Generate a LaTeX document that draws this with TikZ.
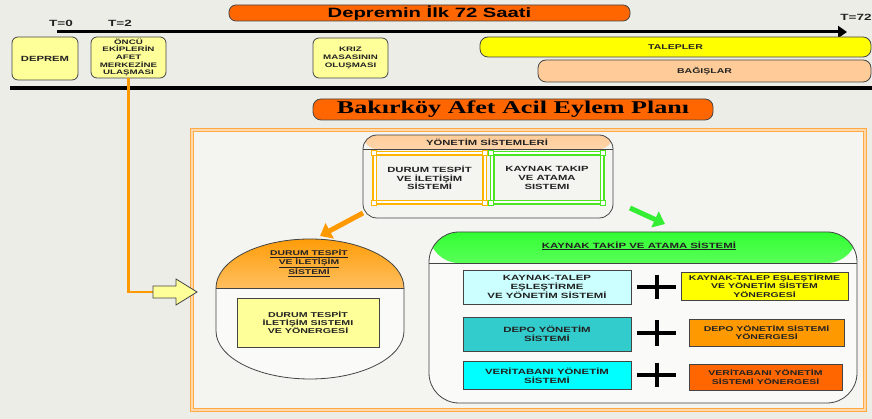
\documentclass[tikz,border=0pt]{standalone}
\usepackage{fontspec}
\setmainfont{Liberation Sans}[FakeStretch=1.5]
\newfontfamily\ttlserif{Liberation Serif}[FakeStretch=1.45]
\usetikzlibrary{arrows.meta}
\definecolor{bg}{HTML}{EDEDE7}
\definecolor{bginner}{HTML}{F4F4F0}
\definecolor{ttlorange}{HTML}{FF6600}
\definecolor{paleyellow}{HTML}{FFFF99}
\definecolor{brightyellow}{HTML}{FFFF00}
\definecolor{peach}{HTML}{FFCC99}
\definecolor{frameorange}{HTML}{FFAA44}
\definecolor{goldline}{HTML}{FFB400}
\definecolor{greenline}{HTML}{4BE622}
\definecolor{arroworange}{HTML}{FF9900}
\definecolor{arrowgreen}{HTML}{33EE33}
\definecolor{hdrgreen}{HTML}{33FF33}
\definecolor{lightcyan}{HTML}{CCFFFF}
\definecolor{tealbox}{HTML}{33CCCC}
\definecolor{cyanbox}{HTML}{00FFFF}
\definecolor{orangebox}{HTML}{FF9900}
\definecolor{redorange}{HTML}{FF6600}
\definecolor{txt}{HTML}{222222}
\definecolor{bord}{HTML}{444444}
\begin{document}
\begin{tikzpicture}[x=1pt,y=1pt,
  lbl/.style={font=\fontsize{9}{9}\selectfont\bfseries, text=txt, inner sep=0pt},
  evbox/.style={draw=bord, line width=0.8pt, rounded corners=6pt, fill=paleyellow, align=center, text=txt, inner sep=0pt, font=\fontsize{6.5}{7.6}\selectfont\bfseries},
  barbox/.style={draw=bord, line width=0.8pt, rounded corners=8pt, inner sep=0pt, text=txt, font=\fontsize{7}{8}\selectfont\bfseries},
  ttlbox/.style={draw=bord, line width=0.8pt, fill=ttlorange, inner sep=0pt, text=black},
  frm/.style={line width=1.5pt, double=white, double distance=2pt, align=center, inner sep=0pt, text=txt, font=\fontsize{7.5}{8.6}\selectfont\bfseries, minimum height=49pt},
  rowbox/.style={draw=bord, line width=0.9pt, align=center, inner sep=0pt, text=txt, font=\fontsize{7.6}{8.6}\selectfont\bfseries, minimum width=168pt},
  rbox/.style={draw=bord, line width=0.9pt, align=center, inner sep=0pt, text=txt, font=\fontsize{7}{8.2}\selectfont\bfseries},
  plus/.style={line width=4pt, black},
  hdrtxt/.style={align=center, inner sep=0pt, text=txt}
]
\fill[bg] (0,0) rectangle (872,419);
\useasboundingbox (0,0) rectangle (872,419);

% ---------- timeline part ----------
\node[ttlbox, rounded corners=7pt, minimum width=401pt, minimum height=16pt, font=\fontsize{13.5}{14}\selectfont\bfseries] (ttl) at (429.5,406) {Depremin İlk 72 Saati};

\node[lbl] (t0) at (61,396) {T=0};
\node[lbl] (t2) at (120,396) {T=2};
\node[lbl] (t72) at (856,402) {T=72};
\coordinate (tlA) at (57,387);
\coordinate (tlB) at (847,387);
\draw[line width=3pt, -{Triangle[length=9pt,width=12pt]}] (tlA) -- (tlB);

\node[evbox, minimum width=66pt, minimum height=43pt, font=\fontsize{7.5}{8}\selectfont\bfseries] (dep) at (45,360.5) {DEPREM};
\node[evbox, minimum width=75pt, minimum height=41pt] (onc) at (128.5,361.5) {ÖNCÜ\\EKİPLERİN\\AFET\\MERKEZİNE\\ULAŞMASI};
\node[evbox, minimum width=75pt, minimum height=40pt] (kriz) at (350.5,361) {KRIZ\\MASASININ\\OLUŞMASI};

\node[barbox, fill=brightyellow, minimum width=391pt, minimum height=20pt] (tal) at (675.5,372) {TALEPLER};
\node[barbox, fill=peach, minimum width=333pt, minimum height=22pt] (bag) at (704.5,348) {BAĞIŞLAR};

\coordinate (hlA) at (10,331);
\coordinate (hlB) at (872,331);
\draw[line width=3.5pt] (hlA) -- (hlB);

% ---------- plan part ----------
\node[ttlbox, rounded corners=8pt, minimum width=400pt, minimum height=21pt, font=\ttlserif\fontsize{18}{18}\selectfont\bfseries] (plan) at (513,309.5) {Bakırköy Afet Acil Eylem Planı};

\fill[bginner] (192,9) rectangle (865,289);
\draw[frameorange, line width=1.4pt, double=frameorange!45, double distance=1.4pt] (192,9) rectangle (865,289);

% connector from ÖNCÜ box to the yellow arrow
\coordinate (ytail) at (153,127);
\draw[arroworange, line width=2.5pt] (onc.south) |- (ytail);
\filldraw[fill=paleyellow, draw=bord, line width=0.8pt]
  (153,133) -- (176,133) -- (176,140) -- (197,127) -- (176,114) -- (176,121) -- (153,121) -- cycle;

% management systems box
\node[draw=bord, line width=0.8pt, rounded corners=14pt, fill=bginner, minimum width=250pt, minimum height=83pt, inner sep=0pt,
  path picture={\fill[top color=peach, bottom color=white] (path picture bounding box.north west) rectangle ([yshift=-14pt]path picture bounding box.north east);
    \draw[bord, line width=0.6pt] ([yshift=-14pt]path picture bounding box.north west) -- ([yshift=-14pt]path picture bounding box.north east);}] (yon) at (488,242.5) {};
\node[hdrtxt, font=\fontsize{7.5}{8}\selectfont\bfseries] (yonh) at (487,276.5) {YÖNETİM SİSTEMLERİ};
\node[frm, draw=goldline, minimum width=110pt] (dts) at (429.5,241) {DURUM TESPİT\\VE İLETİŞİM\\SİSTEMİ};
\node[frm, draw=greenline, minimum width=110pt] (kts) at (547,241) {KAYNAK TAKIP\\VE ATAMA\\SISTEMI};
\foreach \fr/\col in {dts/goldline, kts/greenline}{
  \foreach \cn in {north west, north east, south west, south east}{
    \draw[\col, line width=0.8pt, fill=white] ([shift={(-2.5pt,-2.5pt)}]\fr.\cn) rectangle ([shift={(2.5pt,2.5pt)}]\fr.\cn);
  }
}

% arrows
\coordinate (oaS) at (363,206);
\coordinate (oaE) at (320,183);
\draw[arroworange, line width=5pt, -{Triangle[length=11pt,width=17pt]}] (oaS) -- (oaE);
\coordinate (gaS) at (630,211);
\coordinate (gaE) at (665,195);
\draw[arrowgreen, line width=5pt, -{Triangle[length=11pt,width=17pt]}] (gaS) -- (gaE);

% left dome
\path[draw=bord, line width=0.8pt, fill=white!50!bginner,
  path picture={\fill[top color=arroworange, bottom color=white] (200,131) rectangle (420,185);
    \draw[bord, line width=0.6pt] (200,131) -- (420,131);}]
  (216,131) arc[start angle=180, end angle=0, x radius=94, y radius=49]
  -- (404,88) arc[start angle=0, end angle=-180, x radius=94, y radius=48] -- cycle;
\node[hdrtxt, font=\fontsize{6.9}{9}\selectfont\bfseries] (dhdr) at (309,156) {\underline{DURUM TESPİT}\\\underline{VE İLETİŞİM}\\\underline{SİSTEMİ}};
\node[rowbox, fill=paleyellow, minimum width=142pt, minimum height=49pt, font=\fontsize{7.1}{8.3}\selectfont\bfseries] (dyon) at (308,96.5) {DURUM TESPİT\\İLETİŞİM SISTEMI\\VE YÖNERGESİ};

% right resource box
\node[draw=bord, line width=0.8pt, rounded corners=30pt, fill=white!50!bginner, minimum width=428pt, minimum height=171pt, inner sep=0pt,
  path picture={\fill[top color=hdrgreen, bottom color=white] (path picture bounding box.north west) rectangle ([yshift=-31pt]path picture bounding box.north east);
    \draw[bord, line width=0.6pt] ([yshift=-31pt]path picture bounding box.north west) -- ([yshift=-31pt]path picture bounding box.north east);}] (kay) at (643,101.5) {};
\node[hdrtxt, font=\fontsize{7.6}{8}\selectfont\bfseries] (khdr) at (639,173) {\underline{KAYNAK TAKİP VE ATAMA SİSTEMİ}};

\node[rowbox, fill=lightcyan, minimum height=34pt] (r1) at (547,132) {KAYNAK-TALEP\\EŞLEŞTİRME\\VE YÖNETİM SİSTEMİ};
\node[rbox, fill=brightyellow, minimum width=167pt, minimum height=28pt] (r1r) at (764.5,133) {KAYNAK-TALEP EŞLEŞTİRME\\VE YÖNETİM SİSTEM\\YÖNERGESİ};
\node[rowbox, fill=tealbox, minimum height=34pt] (r2) at (547,85) {DEPO YÖNETİM\\SİSTEMİ};
\node[rbox, fill=orangebox, minimum width=155pt, minimum height=27pt] (r2r) at (766.5,86.5) {DEPO YÖNETİM SİSTEMİ\\YÖNERGESİ};
\node[rowbox, fill=cyanbox, minimum height=28pt] (r3) at (547,43.5) {VERİTABANI YÖNETİM\\SİSTEMİ};
\node[rbox, fill=redorange, minimum width=153pt, minimum height=26pt] (r3r) at (765.5,42) {VERİTABANI YÖNETİM\\SİSTEMİ YÖNERGESİ};

% plus signs
\draw[plus] (637,132) -- (676,132);
\draw[plus] (657,144) -- (657,120);
\draw[plus] (637,86) -- (676,86);
\draw[plus] (657,99) -- (657,73);
\draw[plus] (637,44) -- (676,44);
\draw[plus] (657,56) -- (657,32);
\end{tikzpicture}
\end{document}
